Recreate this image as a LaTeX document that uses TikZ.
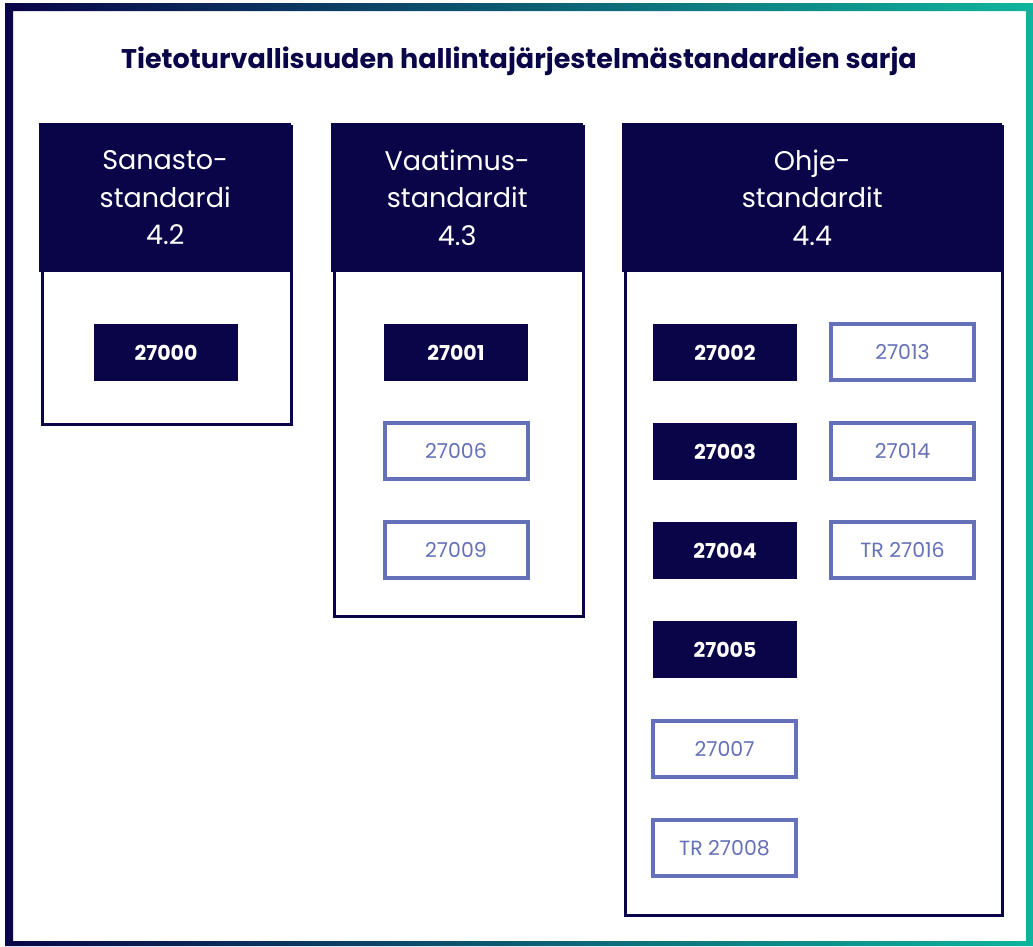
\documentclass[tikz,border=0pt]{standalone}
\usepackage{fontspec}
\setmainfont{Poppins}
\definecolor{navy}{HTML}{0A0548}
\definecolor{tealc}{HTML}{0FB49C}
\definecolor{peri}{HTML}{6470B8}
\begin{document}
\begin{tikzpicture}[x=1pt,y=-1pt,
  colbox/.style={draw=navy, line width=3, fill=white, anchor=north west, inner sep=0},
  hdr/.style={fill=navy, text=white, anchor=north west, inner sep=0, align=center,
    minimum height=149, font=\fontsize{27}{37.5}\selectfont},
  fbox/.style={fill=navy, text=white, minimum width=144, minimum height=57, inner sep=0,
    font=\bfseries\fontsize{20.5}{22}\selectfont},
  obox/.style={draw=peri, line width=4, fill=white, text=peri, minimum width=143, minimum height=56,
    inner sep=0, font=\fontsize{20.5}{22}\selectfont},
  titlestyle/.style={text=navy, font=\bfseries\fontsize{27}{30}\selectfont, inner sep=0}]
\useasboundingbox (0,0) rectangle (1033,946);
\fill[white] (0,0) rectangle (1033,946);
\shade[left color=navy, right color=tealc, even odd rule] (5,3) rectangle (1033,946) (13,11) rectangle (1026,941);

\node[titlestyle] (title) at (519,61) {Tietoturvallisuuden hallintajärjestelmästandardien sarja};

% columns
\node[colbox, minimum width=249, minimum height=298] (c1) at (40.5,124.5) {};
\node[colbox, minimum width=249, minimum height=490] (c2) at (332.5,124.5) {};
\node[colbox, minimum width=377, minimum height=789] (c3) at (623.5,124.5) {};

\node[hdr, minimum width=252] (h1) at (39,123) {Sanasto-\\standardi\\4.2};
\node[hdr, minimum width=252] (h2) at (331,123) {Vaatimus-\\standardit\\4.3};
\node[hdr, minimum width=380] (h3) at (622,123) {Ohje-\\standardit\\4.4};

% boxes
\node[fbox] (b27000) at (166,352.5) {27000};
\node[fbox] (b27001) at (456,352.5) {27001};
\node[obox] (b27006) at (456,451) {27006};
\node[obox] (b27009) at (456,550) {27009};
\node[fbox] (b27002) at (725,352.5) {27002};
\node[fbox] (b27003) at (725,451.5) {27003};
\node[fbox] (b27004) at (725,550.5) {27004};
\node[fbox] (b27005) at (725,649.5) {27005};
\node[obox] (b27007) at (724.5,748.5) {27007};
\node[obox] (b27008) at (724.5,848) {TR 27008};
\node[obox] (b27013) at (902.5,352) {27013};
\node[obox] (b27014) at (902.5,451) {27014};
\node[obox] (b27016) at (902.5,550) {TR 27016};
\end{tikzpicture}
\end{document}
